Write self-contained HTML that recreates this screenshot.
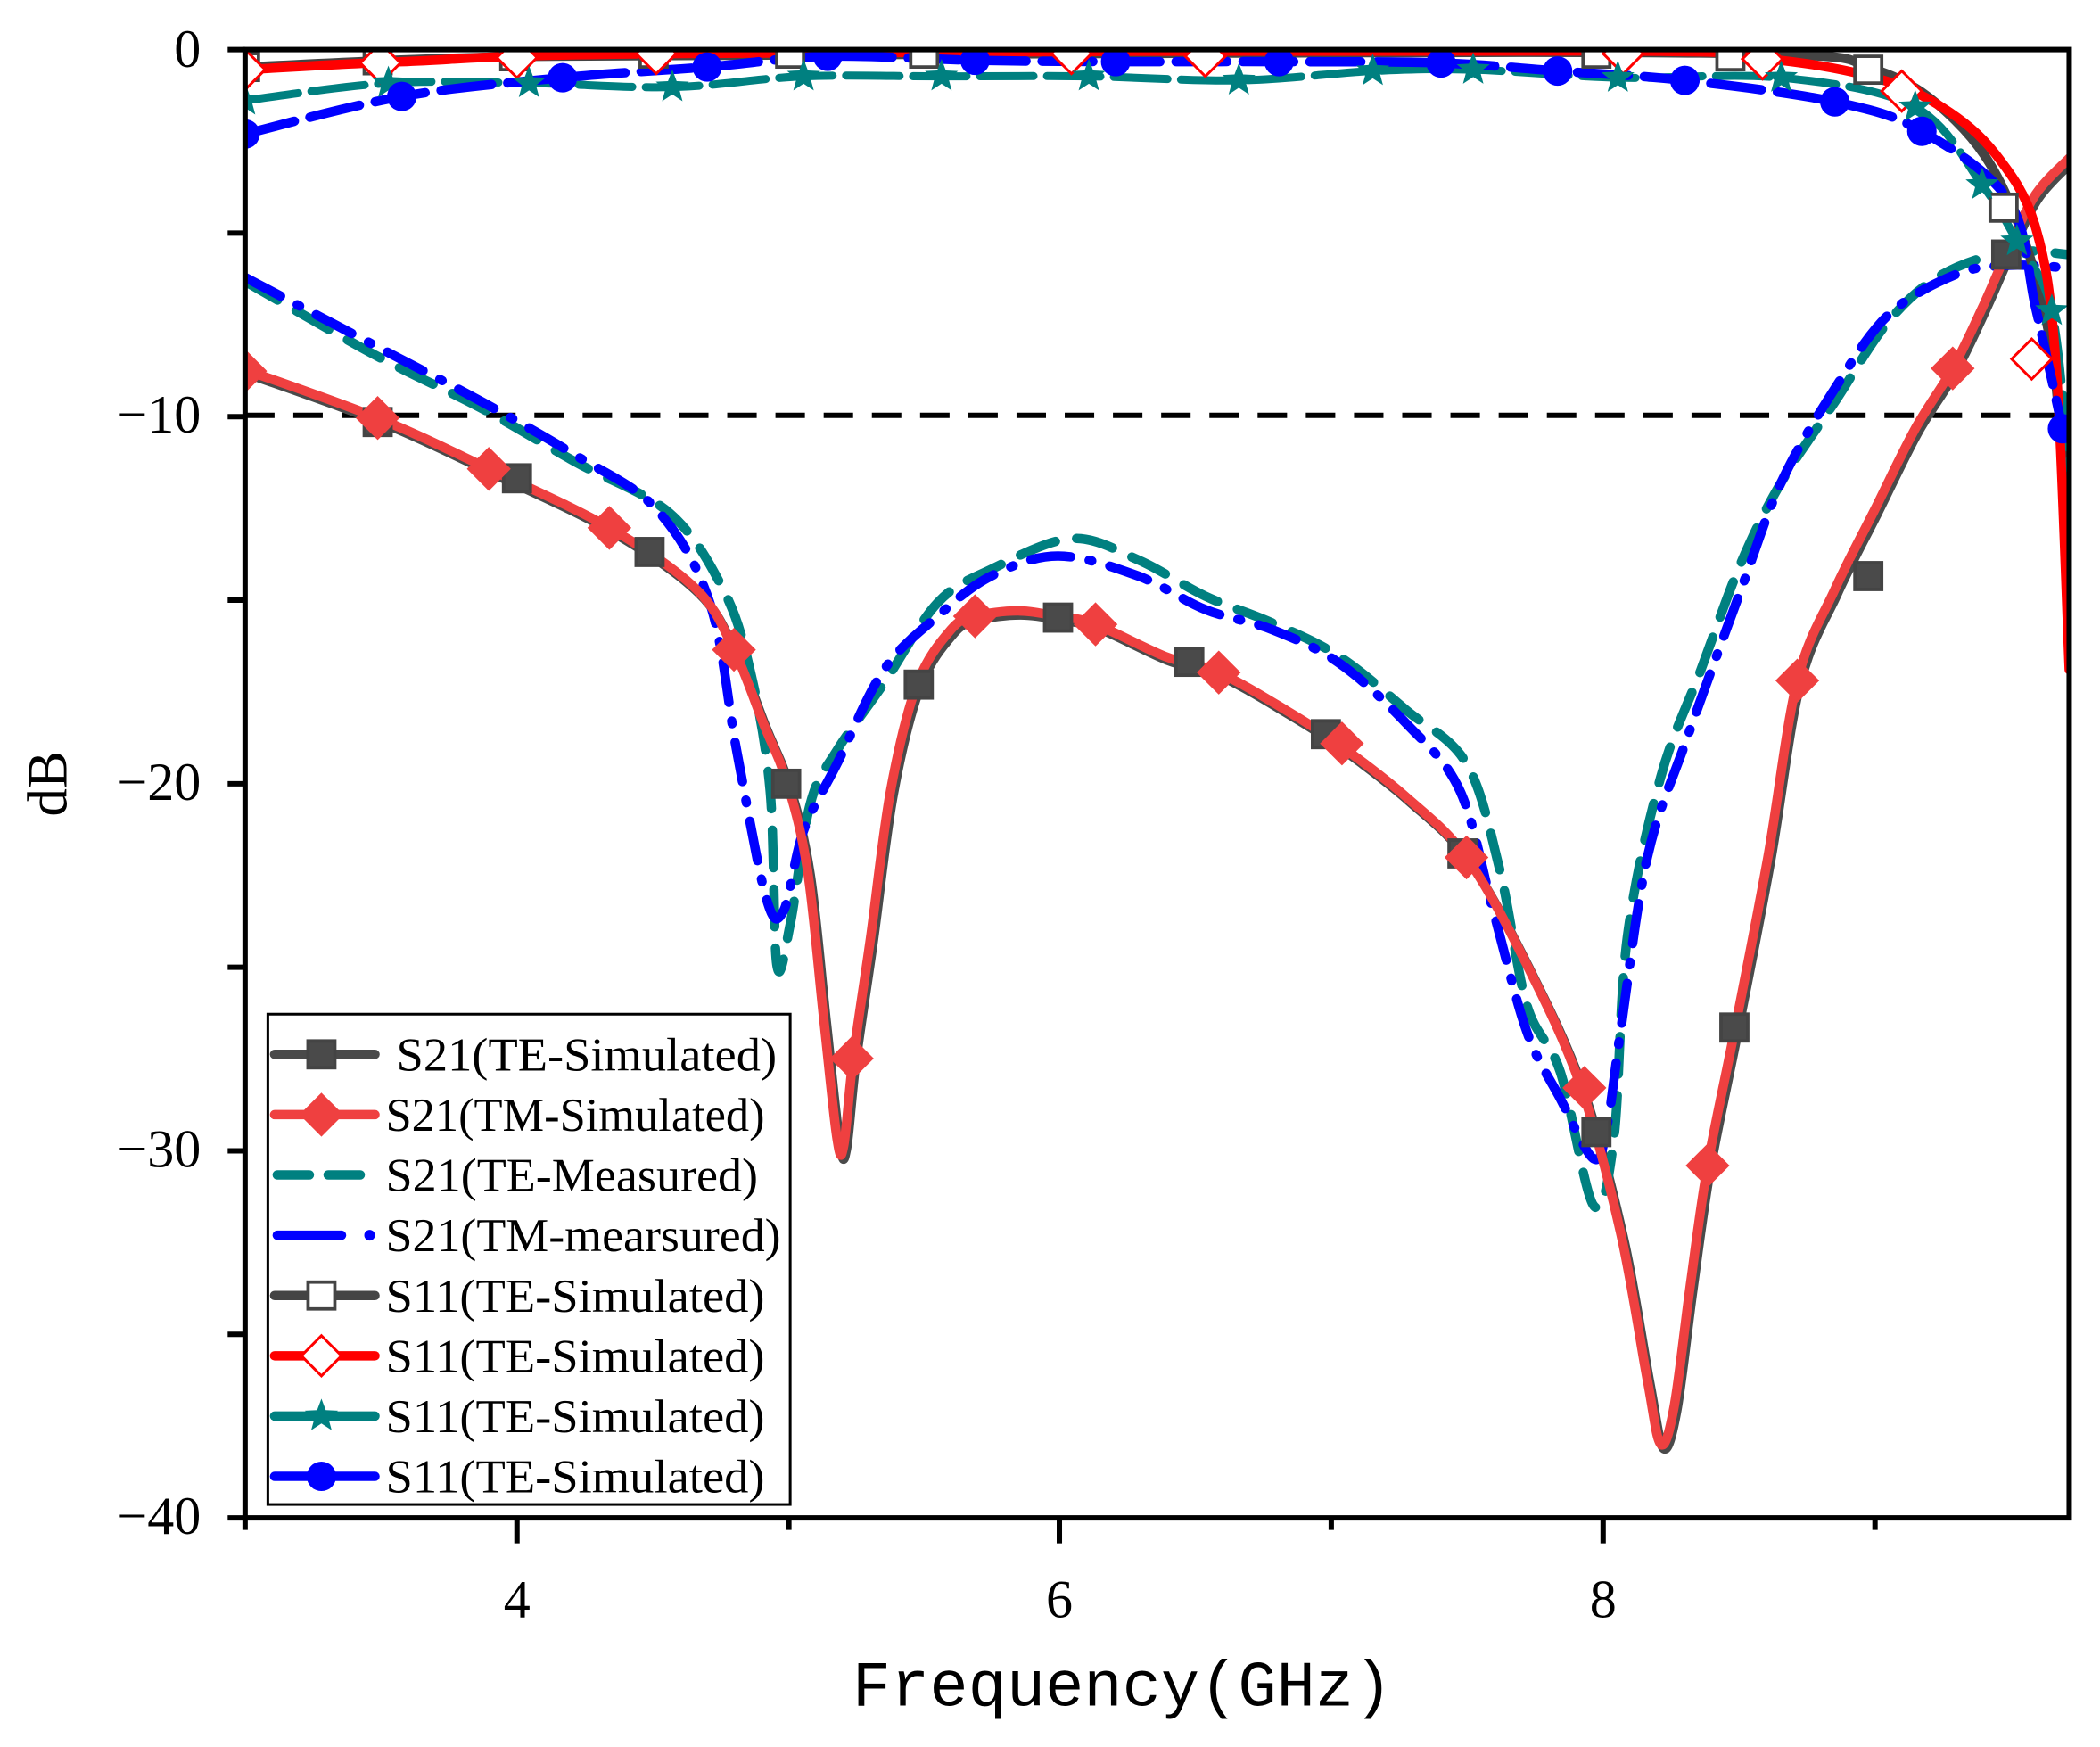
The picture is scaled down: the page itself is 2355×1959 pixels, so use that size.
<!DOCTYPE html>
<html><head><meta charset="utf-8"><style>html,body{margin:0;padding:0;background:#fff}svg{display:block}</style></head>
<body>
<svg id="s" width="2355" height="1959" viewBox="0 0 1568 1304" preserveAspectRatio="none" xmlns="http://www.w3.org/2000/svg">
<g id="g"></g>
<text x="40" y="585" transform="rotate(-90 40 585)" text-anchor="middle" dominant-baseline="middle" font-family="Liberation Serif, serif" font-size="42">dB</text>
<text x="838" y="1273" text-anchor="middle" font-family="Liberation Mono, monospace" font-size="48">Frequency(GHz)</text>
</svg>
<script>
const NS="http://www.w3.org/2000/svg";let G=document.getElementById('g');
function el(t,a,p){const e=document.createElementNS(NS,t);for(const k in a)e.setAttribute(k,a[k]);(p||G).appendChild(e);return e;}
function cr(P){let d="M"+P[0][0]+","+P[0][1];for(let i=0;i<P.length-1;i++){const p0=P[i-1]||P[i],p1=P[i],p2=P[i+1],p3=P[i+2]||p2;
const c1=[p1[0]+(p2[0]-p0[0])/6,p1[1]+(p2[1]-p0[1])/6],c2=[p2[0]-(p3[0]-p1[0])/6,p2[1]-(p3[1]-p1[1])/6];
d+=` C${c1[0]},${c1[1]} ${c2[0]},${c2[1]} ${p2[0]},${p2[1]}`;}return d;}
function sq(x,y,fill,s){s=s||20;el('rect',{x:x-s/2,y:y-s/2,width:s,height:s,fill:fill,stroke:'#444','stroke-width':2.5});}
function dia(x,y,fill,s){s=s||15;el('path',{d:`M${x},${y-s}L${x+s},${y}L${x},${y+s}L${x-s},${y}Z`,fill:fill,stroke:fill=='#fff'?'#f00':fill,'stroke-width':2});}
function circ(x,y){el('circle',{cx:x,cy:y,r:11,fill:'#00f'});}
function star(x,y){let d="";for(let i=0;i<10;i++){const r=i%2?5.5:13,a=-Math.PI/2+i*Math.PI/5;d+=(i?"L":"M")+(x+r*Math.cos(a))+","+(y+r*Math.sin(a));}el('path',{d:d+"Z",fill:'#008080'});}
const root=G;
const defs=el('defs',{});const cp=el('clipPath',{id:'c'},defs);el('rect',{x:183,y:37,width:1362,height:1096},cp);
const CG=el('g',{'clip-path':'url(#c)'});
function L(P,col,w,dash){const e=document.createElementNS(NS,'path');e.setAttribute('d',cr(P));e.setAttribute('fill','none');e.setAttribute('stroke',col);e.setAttribute('stroke-width',w);e.setAttribute('stroke-linecap','round');e.setAttribute('stroke-linejoin','round');if(dash)e.setAttribute('stroke-dasharray',dash);CG.appendChild(e);}
el('line',{x1:183,y1:310,x2:1545,y2:310,stroke:'#000','stroke-width':4,'stroke-dasharray':'22,14'},CG);
const sim=[[183,276],[282,312],[365,350],[455,394],[520,440],[548,485],[570,540],[588,585],[603,650],[615,760],[625,850],[630,855],[637,790],[650,700],[665,590],[685,510],[710,470],[728,460],[760,456],[790,460],[818,466],[870,490],[910,502],[960,530],[1000,556],[1050,595],[1095,640],[1140,720],[1180,810],[1210,920],[1230,1030],[1240,1078],[1250,1050],[1262,960],[1275,870],[1295,770],[1320,640],[1342,508],[1370,440],[1400,380],[1430,320],[1458,275],[1480,230],[1500,185],[1520,145],[1545,118]];
const teM=[[183,210],[280,265],[360,305],[430,345],[500,383],[540,440],[560,500],[575,590],[580,720],[590,690],[605,600],[625,560],[660,510],[700,450],[740,425],[800,402],[850,418],[900,445],[950,465],[1000,490],[1050,530],[1095,570],[1120,650],[1140,750],[1165,800],[1190,900],[1205,850],[1215,700],[1240,580],[1270,500],[1300,420],[1330,360],[1370,300],[1410,240],[1450,205],[1500,188],[1545,190]];
const tmM=[[183,207],[280,258],[360,300],[430,340],[490,380],[530,450],[550,560],[572,670],[585,680],[600,620],[625,570],[660,500],[700,460],[740,430],[790,415],[850,430],[900,455],[950,470],[1000,495],[1050,540],[1090,590],[1115,680],[1140,770],[1165,820],[1190,865],[1200,840],[1210,770],[1230,640],[1260,550],[1300,440],[1330,360],[1370,290],[1410,235],[1460,205],[1500,198],[1545,200]];
const s11te=[[183,50],[400,42],[800,40],[1300,40],[1400,52],[1460,90],[1500,150],[1530,250],[1545,400]];
const s11tm=[[183,52],[300,46],[500,40],[1200,38],[1320,44],[1400,58],[1450,80],[1490,115],[1520,170],[1535,270],[1545,500]];
const s11st=[[183,75],[290,62],[395,62],[502,65],[600,57],[703,57],[813,57],[925,60],[1025,53],[1100,52],[1208,58],[1330,58],[1430,80],[1480,138],[1506,180],[1532,232],[1545,350]];
const s11ci=[[183,100],[300,72],[420,58],[528,50],[618,42],[728,45],[833,46],[955,46],[1076,47],[1163,53],[1258,60],[1370,76],[1435,98],[1500,150],[1520,230],[1540,320]];
L(sim.map(p=>[p[0]+2,p[1]+3]),'#4a4a4a',7);
L(teM,'#008080',7,'28,16');
L(tmM,'#0000ff',7,'30,14,2,14');
L(sim,'#ef4040',7);
L(s11te,'#444',7);
L(s11st,'#008080',6,'40,10');
L(s11tm,'#ff0000',7);
L(s11ci,'#0000ff',7,'38,12');
G=CG;
[[282,315],[386,357],[485,412],[587,585],[686,511],[790,461],[888,494],[990,548],[1092,637],[1192,845],[1295,767],[1395,430],[1498,190]].forEach(p=>sq(p[0],p[1],'#4a4a4a'));
[[183,277],[282,312],[365,350],[455,394],[548,485],[636,790],[728,460],[818,466],[910,502],[1002,555],[1095,640],[1183,812],[1275,870],[1342,508],[1458,275]].forEach(p=>dia(p[0],p[1],'#ef4040'));
[[183,50],[282,45],[384,42],[488,40],[590,40],[690,40],[1192,40],[1292,42],[1395,52],[1496,155]].forEach(p=>sq(p[0],p[1],'#fff'));
[[183,52],[284,47],[386,43],[490,40],[800,40],[900,42],[1212,40],[1316,44],[1420,68],[1517,268]].forEach(p=>dia(p[0],p[1],'#fff'));
s11st.slice(0,15).forEach(p=>star(p[0],p[1]));star(1532,232);
s11ci.filter((p,i)=>i!=13&&i!=14).forEach(p=>circ(p[0],p[1]));
G=root;
el('rect',{x:183,y:37,width:1362,height:1096,fill:'none',stroke:'#000','stroke-width':4});
[386,791,1197].forEach(x=>el('line',{x1:x,y1:1133,x2:x,y2:1152,stroke:'#000','stroke-width':4}));
[183,589,994,1400].forEach(x=>el('line',{x1:x,y1:1133,x2:x,y2:1142,stroke:'#000','stroke-width':4}));
[[386,'4'],[791,'6'],[1197,'8']].forEach(a=>{const t=el('text',{x:a[0],y:1207,'text-anchor':'middle','font-family':'Liberation Serif, serif','font-size':40});t.textContent=a[1];});
for(let i=0;i<=8;i++){const y=37+i*137;el('line',{x1:170,y1:y,x2:183,y2:y,stroke:'#000','stroke-width':4});}
[['0',37],['−10',310],['−20',584],['−30',858],['−40',1132]].forEach(a=>{const t=el('text',{x:150,y:a[1]+13,'text-anchor':'end','font-family':'Liberation Serif, serif','font-size':40});t.textContent=a[0];});
el('rect',{x:200,y:757,width:390,height:366,fill:'#fff',stroke:'#000','stroke-width':2});
const leg=[['S21(TE-Simulated)','#4a4a4a','sq'],['S21(TM-Simulated)','#ef4040','dia'],['S21(TE-Measured)','#008080','dash'],['S21(TM-mearsured)','#0000ff','dd'],['S11(TE-Simulated)','#444','osq'],['S11(TE-Simulated)','#ff0000','odia'],['S11(TE-Simulated)','#008080','star'],['S11(TE-Simulated)','#0000ff','circ']];
leg.forEach((l,i)=>{const y=787+i*45;
if(l[2]=='dash')el('line',{x1:207,y1:y,x2:282,y2:y,stroke:l[1],'stroke-width':7,'stroke-dasharray':'24,14','stroke-linecap':'round'});
else if(l[2]=='dd'){el('line',{x1:207,y1:y,x2:255,y2:y,stroke:l[1],'stroke-width':7,'stroke-linecap':'round'});el('circle',{cx:276,cy:y,r:4,fill:l[1]});}
else el('line',{x1:205,y1:y,x2:280,y2:y,stroke:l[1],'stroke-width':7,'stroke-linecap':'round'});
if(l[2]=='sq')sq(240,y,'#4a4a4a');if(l[2]=='dia')dia(240,y,'#ef4040');if(l[2]=='osq')sq(240,y,'#fff');if(l[2]=='odia')dia(240,y,'#fff');if(l[2]=='star')star(240,y);if(l[2]=='circ')circ(240,y);
const t=el('text',{x:i==0?296:288,y:y+12,'font-family':'Liberation Serif, serif','font-size':35,textLength:i==3?295:(i==2?278:(i==0?284:283)),lengthAdjust:'spacingAndGlyphs'});t.textContent=l[0];});
</script>
</body></html>
